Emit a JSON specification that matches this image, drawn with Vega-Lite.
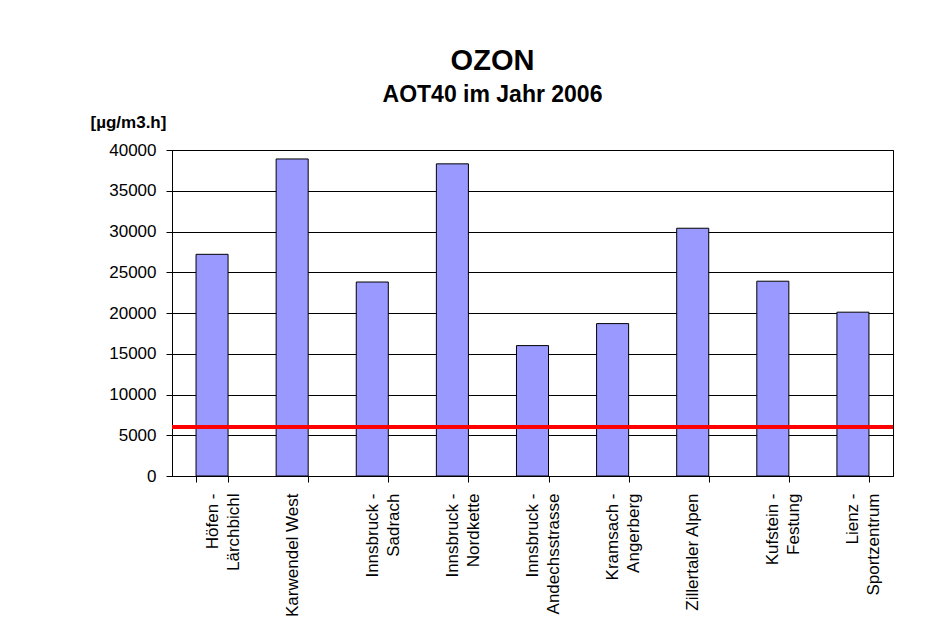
{
  "$schema": "https://vega.github.io/schema/vega-lite/v6.json",
  "width": 721,
  "height": 326,
  "autosize": {"type": "none"},
  "padding": {"left": 172, "top": 150, "right": 47, "bottom": 146},
  "background": "white",
  "config": {
    "font": "Liberation Sans",
    "view": {"stroke": "black", "strokeWidth": 1},
    "axis": {
      "domainColor": "black",
      "tickColor": "black",
      "gridColor": "black",
      "labelColor": "black",
      "titleColor": "black",
      "labelFont": "Liberation Sans",
      "titleFont": "Liberation Sans"
    }
  },
  "title": {
    "text": "OZON",
    "subtitle": "AOT40 im Jahr 2006",
    "anchor": "middle",
    "frame": "group",
    "dx": -40,
    "fontSize": 29,
    "fontWeight": "bold",
    "color": "black",
    "subtitleFontSize": 23,
    "subtitleFontWeight": "bold",
    "subtitleColor": "black",
    "subtitleFont": "Liberation Sans",
    "subtitlePadding": 8,
    "offset": 6
  },
  "layer": [
    {
      "data": {
        "values": [
          {"station": "Höfen -\nLärchbichl", "aot40": 27200},
          {"station": "Karwendel West", "aot40": 38900},
          {"station": "Innsbruck -\nSadrach", "aot40": 23800},
          {"station": "Innsbruck -\nNordkette", "aot40": 38300},
          {"station": "Innsbruck -\nAndechsstrasse", "aot40": 16000},
          {"station": "Kramsach -\nAngerberg", "aot40": 18700},
          {"station": "Zillertaler Alpen", "aot40": 30400},
          {"station": "Kufstein -\nFestung", "aot40": 23900},
          {"station": "Lienz -\nSportzentrum", "aot40": 20100}
        ]
      },
      "mark": {"type": "bar", "fill": "#9999FF", "stroke": "black", "strokeWidth": 1},
      "encoding": {
        "x": {
          "field": "station",
          "type": "nominal",
          "sort": null,
          "scale": {"paddingInner": 0.6, "paddingOuter": 0.3},
          "axis": {
            "title": null,
            "labelExpr": "split(datum.label, '\\n')",
            "labelAngle": -90,
            "labelFontSize": 17,
            "labelLineHeight": 21,
            "labelPadding": 11,
            "tickSize": 6,
            "tickBand": "extent",
            "labelLimit": 0
          }
        },
        "y": {
          "field": "aot40",
          "type": "quantitative",
          "scale": {"domain": [0, 40000], "nice": false},
          "axis": {
            "values": [0, 5000, 10000, 15000, 20000, 25000, 30000, 35000, 40000],
            "format": "d",
            "grid": true,
            "gridWidth": 1,
            "labelFontSize": 17,
            "labelPadding": 10,
            "tickSize": 6,
            "title": "[µg/m3.h]",
            "titleAngle": 0,
            "titleAlign": "left",
            "titleBaseline": "alphabetic",
            "titleX": -82,
            "titleY": -23,
            "titleFontSize": 17,
            "titleFontWeight": "bold"
          }
        }
      }
    },
    {
      "data": {"values": [{"zielwert": 6000}]},
      "mark": {"type": "rule", "color": "#FF0000", "strokeWidth": 4},
      "encoding": {
        "y": {"field": "zielwert", "type": "quantitative"}
      }
    }
  ]
}
